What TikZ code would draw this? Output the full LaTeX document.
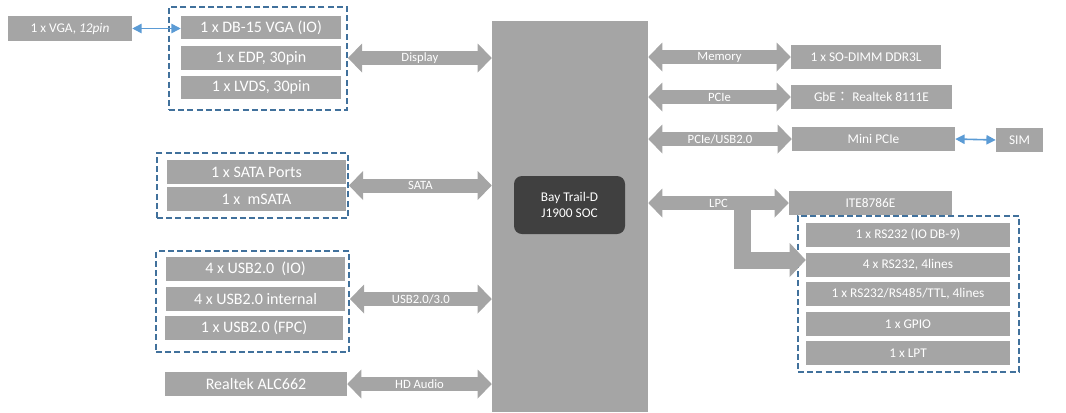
\documentclass[tikz,border=0pt]{standalone}
\usepackage{fontspec}
\setmainfont{Carlito}
\newfontfamily\cjk{Noto Sans CJK TC}
\usetikzlibrary{arrows.meta,calc}
\definecolor{boxgray}{HTML}{A5A5A5}
\definecolor{chipgray}{HTML}{404040}
\definecolor{grpblue}{HTML}{41719C}
\definecolor{linkblue}{HTML}{5B9BD5}
\begin{document}
\begin{tikzpicture}[x=0.75pt,y=-0.75pt,
    blk/.style={fill=boxgray,text=white,inner sep=0pt,minimum height=18pt,font=\fontsize{10}{12}\selectfont},
    lblk/.style={blk,minimum width=134.25pt,font=\fontsize{12}{14}\selectfont},
    rblk/.style={blk,minimum width=153pt},
    grp/.style={draw=grpblue,line width=1.5pt,dash pattern=on 4.5pt off 2.4pt},
    bus/.style={draw=boxgray,line width=10.5pt,
      {Triangle[length=10.5pt,width=21.75pt,line width=0pt]}-{Triangle[length=10.5pt,width=21.75pt,line width=0pt]}},
    lbl/.style={text=white,font=\fontsize{9.5}{11}\selectfont},
    link/.style={draw=linkblue,line width=1.2pt,
      {Triangle[length=7pt,width=7pt]}-{Triangle[length=7pt,width=7pt]}}]
  \useasboundingbox (0,0) rectangle (1066,412);
  % SOC
  \node[fill=boxgray,minimum width=117pt,minimum height=293.25pt] (soc) at (570,216.5) {};
  \node[fill=chipgray,rounded corners=6pt,text=white,align=center,minimum width=83.25pt,
    minimum height=43.5pt,font=\fontsize{10}{11.5}\selectfont] (chip) at (569.5,205) {Bay Trail-D\\J1900 SOC};
  % display
  \node[blk,minimum width=93pt,minimum height=18.75pt] (vga) at (70,28.5) {1 x VGA, \textit{12pin}};
  \node[grp,minimum width=133.5pt,minimum height=77.25pt] (dgrp) at (258,58.5) {};
  \node[lblk,minimum width=120pt,minimum height=17.25pt] (db15) at (261,27.5) {1 x DB-15 VGA (IO)};
  \node[lblk,minimum width=120pt] (edp) at (261,58) {1 x EDP, 30pin};
  \node[lblk,minimum width=120pt,minimum height=17.25pt] (lvds) at (261,87.5) {1 x LVDS, 30pin};
  % sata
  \node[grp,minimum width=143.25pt,minimum height=48.75pt] (sgrp) at (252.5,185.5) {};
  \node[lblk] (sata) at (256.5,172) {1 x SATA Ports};
  \node[lblk] (msata) at (256.5,199) {1 x\ \ mSATA};
  % usb
  \node[grp,minimum width=144.75pt,minimum height=75.75pt] (ugrp) at (252.5,301.5) {};
  \node[lblk] (usbio) at (255.5,269) {4 x USB2.0\ \ (IO)};
  \node[lblk] (usbint) at (255.5,299) {4 x USB2.0 internal};
  \node[lblk,minimum width=133.5pt] (usbfpc) at (254,328) {1 x USB2.0 (FPC)};
  \node[lblk,minimum width=136.5pt] (audio) at (256,384) {Realtek ALC662};
  % right side
  \node[blk,minimum width=112.5pt] (sodimm) at (866,57) {1 x SO-DIMM DDR3L};
  \node[blk,minimum width=120.75pt] (gbe) at (871.5,97) {GbE{\cjk ：} Realtek 8111E};
  \node[blk,minimum width=122.25pt] (minipcie) at (873.5,139) {Mini PCIe};
  \node[blk,minimum width=35.25pt] (sim) at (1019.5,140) {SIM};
  \node[blk,minimum width=122.25pt] (ite) at (870.5,203) {ITE8786E};
  \node[grp,minimum width=165.75pt,minimum height=117pt] (rgrp) at (908.5,294) {};
  \node[rblk] (rs1) at (908,235) {1 x RS232 (IO DB-9)};
  \node[rblk] (rs4) at (908,265) {4 x RS232, 4lines};
  \node[rblk] (rs485) at (908,294) {1 x RS232/RS485/TTL, 4lines};
  \node[rblk] (gpio) at (908,324) {1 x GPIO};
  \node[rblk] (lpt) at (908,353) {1 x LPT};
  % links
  \draw[link] (vga.east) -- (vga.east -| db15.west);
  \draw[link] (minipcie.east) -- (sim.west);
  \draw[bus] (dgrp.east |- edp) -- (soc.west |- edp) node[midway,lbl] {Display};
  \draw[bus] (sgrp.east) -- (soc.west |- sgrp.east) node[midway,lbl] {SATA};
  \draw[bus] (ugrp.east |- usbint) -- (soc.west |- usbint) node[midway,lbl] {USB2.0/3.0};
  \draw[bus] (audio.east) -- (soc.west |- audio.east) node[midway,lbl] {HD Audio};
  \draw[bus] (soc.east |- sodimm) -- (sodimm.west) node[midway,lbl] {Memory};
  \draw[bus] (soc.east |- gbe) -- (gbe.west) node[midway,lbl] {PCIe};
  \draw[bus] (soc.east |- minipcie) -- (minipcie.west) node[midway,lbl] {PCIe/USB2.0};
  \coordinate (lpcfork) at (742.5,205);
  \draw[draw=boxgray,line width=12.75pt,-{Triangle[length=12pt,width=25.5pt,line width=0pt]}]
    (lpcfork) |- ($(rs4.west)+(0,-5)$);
  \draw[bus] (soc.east |- ite) -- (ite.west) node[midway,lbl] {LPC};
\end{tikzpicture}
\end{document}
